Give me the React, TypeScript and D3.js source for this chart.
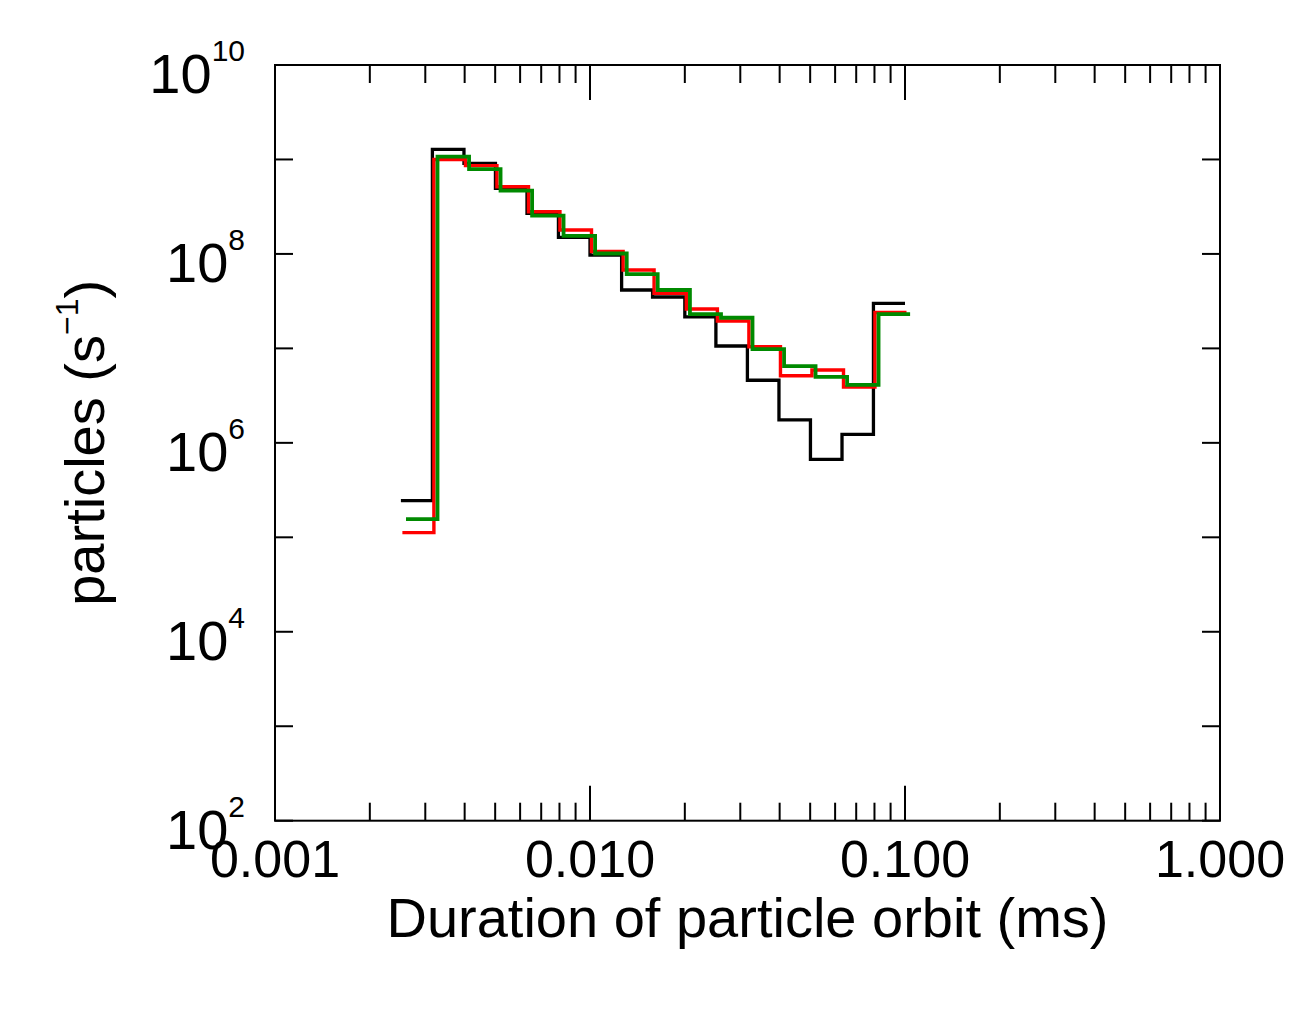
import * as d3 from "d3";

// bin edges of the orbit-duration histogram (ms), 10 bins per decade
const binEdges = [
  0.00251, 0.00316, 0.00398, 0.00501, 0.00631, 0.00794, 0.01, 0.0126, 0.0158,
  0.02, 0.0251, 0.0316, 0.0398, 0.0501, 0.0631, 0.0794, 0.1,
];

// particles per second in each bin
const blackCounts = [
  2.44e5, 1.28e9, 9.1e8, 4.95e8, 2.69e8, 1.5e8, 9.7e7, 4.15e7, 3.5e7, 2.16e7,
  1.06e7, 4.6e6, 1.75e6, 6.7e5, 1.23e6, 3.0e7,
];
const redCounts = [
  1.12e5, 1.0e9, 8.6e8, 5.15e8, 2.8e8, 1.79e8, 1.06e8, 6.76e7, 3.83e7, 2.61e7,
  1.95e7, 1.04e7, 5.14e6, 5.9e6, 3.9e6, 2.4e7,
];
const greenCounts = [
  1.56e5, 1.07e9, 7.9e8, 4.67e8, 2.54e8, 1.55e8, 1.01e8, 6.1e7, 4.15e7, 2.31e7,
  2.11e7, 9.8e6, 6.5e6, 5.0e6, 4.1e6, 2.31e7,
];

// the three sets are drawn slightly shifted along x in the original
const series = [
  { name: "black", counts: blackCounts, shift: 1.0, color: "#000000", width: 3.3 },
  { name: "red", counts: redCounts, shift: 1.011, color: "#ff0000", width: 3.4 },
  { name: "green", counts: greenCounts, shift: 1.038, color: "#008a00", width: 3.8 },
];

const xTickLabels = ["0.001", "0.010", "0.100", "1.000"];
const xMajor = [0.001, 0.01, 0.1, 1];
const yLabelExps = [2, 4, 6, 8, 10];

const W = 1314;
const H = 1034;
const m = { left: 275, top: 65, right: 1220, bottom: 820.7 };
const font = "'Liberation Sans', Arial, Helvetica, sans-serif";

export default function App() {
  const x = d3.scaleLog().domain([0.001, 1]).range([m.left, m.right]);
  const y = d3.scaleLog().domain([1e2, 1e10]).range([m.bottom, m.top]);

  const line = d3
    .line<[number, number]>()
    .x((d) => x(d[0]))
    .y((d) => y(d[1]))
    .curve(d3.curveStepAfter);

  const xMinor: number[] = [];
  [0.001, 0.01, 0.1].forEach((dec) => {
    d3.range(2, 10).forEach((k) => xMinor.push(dec * k));
  });
  const yTicks = d3.range(2, 11).map((e) => Math.pow(10, e));

  const majorLen = 35;
  const minorLen = 18;

  return (
    <svg
      width={W}
      height={H}
      style={{ position: "absolute", left: 0, top: 0, background: "#fff" }}
      fontFamily={font}
    >
      {series.map((s) => {
        const pts: [number, number][] = s.counts.map((c, i) => [
          binEdges[i] * s.shift,
          c,
        ]);
        pts.push([binEdges[binEdges.length - 1] * s.shift, s.counts[s.counts.length - 1]]);
        return (
          <path
            key={s.name}
            d={line(pts) || ""}
            fill="none"
            stroke={s.color}
            strokeWidth={s.width}
            strokeLinejoin="miter"
            strokeLinecap="butt"
          />
        );
      })}

      <rect
        x={m.left}
        y={m.top}
        width={m.right - m.left}
        height={m.bottom - m.top}
        fill="none"
        stroke="#000"
        strokeWidth={2}
      />

      {/* x ticks, bottom and top */}
      {xMajor.map((v) => (
        <g key={"xm" + v}>
          <line x1={x(v)} x2={x(v)} y1={m.bottom} y2={m.bottom - majorLen} stroke="#000" strokeWidth={2} />
          <line x1={x(v)} x2={x(v)} y1={m.top} y2={m.top + majorLen} stroke="#000" strokeWidth={2} />
        </g>
      ))}
      {xMinor.map((v) => (
        <g key={"xn" + v}>
          <line x1={x(v)} x2={x(v)} y1={m.bottom} y2={m.bottom - minorLen} stroke="#000" strokeWidth={2} />
          <line x1={x(v)} x2={x(v)} y1={m.top} y2={m.top + minorLen} stroke="#000" strokeWidth={2} />
        </g>
      ))}

      {/* y ticks, left and right */}
      {yTicks.map((v) => (
        <g key={"y" + v}>
          <line x1={m.left} x2={m.left + minorLen} y1={y(v)} y2={y(v)} stroke="#000" strokeWidth={2} />
          <line x1={m.right} x2={m.right - minorLen} y1={y(v)} y2={y(v)} stroke="#000" strokeWidth={2} />
        </g>
      ))}

      {xMajor.map((v, i) => (
        <text key={"xl" + v} x={x(v)} y={m.bottom + 56} textAnchor="middle" fontSize={52}>
          {xTickLabels[i]}
        </text>
      ))}

      {yLabelExps.map((e) => (
        <text key={"yl" + e} x={245} y={y(Math.pow(10, e)) + 28} textAnchor="end" fontSize={56}>
          10
          <tspan fontSize={30} dy={-32}>
            {e}
          </tspan>
        </text>
      ))}

      <text x={(m.left + m.right) / 2} y={937} textAnchor="middle" fontSize={56}>
        Duration of particle orbit (ms)
      </text>

      <text
        transform={`translate(104, ${(m.top + m.bottom) / 2}) rotate(-90)`}
        textAnchor="middle"
        fontSize={56}
      >
        particles (s
        <tspan fontSize={32} dy={-26}>
          −1
        </tspan>
        <tspan dy={26}>)</tspan>
      </text>
    </svg>
  );
}
